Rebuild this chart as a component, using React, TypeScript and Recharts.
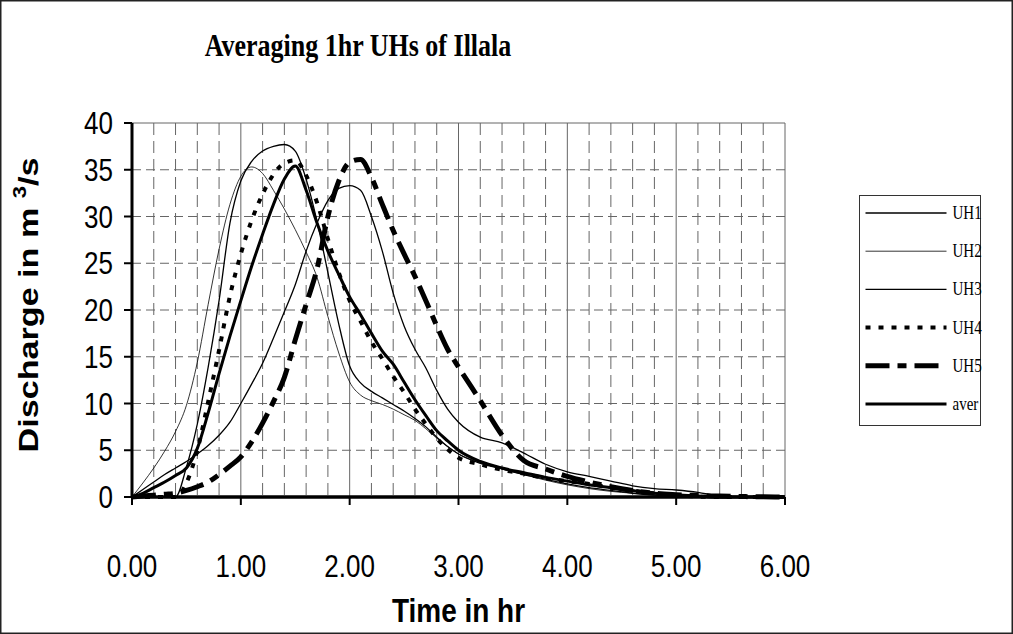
import React from 'react';
import { LineChart, Line, XAxis, YAxis, CartesianGrid } from 'recharts';

// ---------- data ----------
const time = [
  0, 0.1, 0.2, 0.3, 0.4, 0.5, 0.6, 0.7, 0.8, 0.9,
  1.0, 1.1, 1.2, 1.3, 1.4, 1.5, 1.6, 1.7, 1.8, 1.9,
  2.0, 2.1, 2.2, 2.3, 2.4, 2.5, 2.6, 2.7, 2.8, 2.9,
  3.0, 3.2, 3.4, 3.6, 3.8, 4.0, 4.2, 4.4, 4.6, 4.8,
  5.0, 5.2, 5.4, 5.6, 5.8, 6.0,
];

const uh1 = [
  0, 0, 0, 0, 0, 3.2, 7.8, 13.9, 21.0, 29.3,
  33.8, 35.9, 37.0, 37.5, 37.7, 37.0, 34.0, 29.5, 24.0, 18.5,
  14.0, 12.2, 11.3, 10.6, 9.9, 9.2, 8.4, 7.5, 6.4, 5.4,
  4.6, 3.6, 3.0, 2.4, 1.9, 1.4, 1.0, 0.7, 0.4, 0.2,
  0.1, 0, 0, 0, 0, 0,
];

const uh2 = [
  0, 1.5, 3.1, 4.9, 7.0, 9.8, 14.4, 20.6, 26.5, 31.3,
  34.3, 35.3, 34.6, 32.8, 30.8, 28.6, 26.2, 23.5, 19.3, 15.4,
  12.3, 10.9, 10.3, 9.9, 9.4, 8.8, 8.2, 7.3, 6.3, 5.4,
  4.6, 3.7, 3.0, 2.4, 1.8, 1.3, 0.9, 0.6, 0.4, 0.2,
  0.1, 0, 0, 0, 0, 0,
];

const uh3 = [
  0, 0.8, 1.6, 2.4, 3.1, 3.8, 4.6, 5.5, 6.6, 8.0,
  10.0, 12.1, 14.3, 17.0, 19.8, 22.7, 26.3, 29.3, 31.7, 33.0,
  33.3, 32.8, 30.0, 26.3, 21.8, 18.3, 15.8, 13.8, 11.4, 9.4,
  8.0, 6.4, 5.8, 4.7, 3.5, 2.7, 2.2, 1.7, 1.2, 0.9,
  0.75, 0.5, 0.1, 0, 0, 0,
];

const uh4 = [
  0, 0, 0, 0, 0, 1.5, 5.0, 10.2, 15.7, 21.5,
  26.0, 29.6, 32.4, 34.5, 35.7, 36.0, 34.4, 31.5, 27.6, 24.0,
  21.0, 18.8, 16.6, 14.8, 12.9, 11.2, 9.4, 7.8, 6.3, 5.1,
  4.2, 3.5, 2.9, 2.5, 2.0, 1.7, 1.4, 1.0, 0.7, 0.4,
  0.2, 0.05, 0, 0, 0, 0,
];

const uh5 = [
  0, 0.1, 0.2, 0.3, 0.4, 0.7, 1.1, 1.6, 2.4, 3.3,
  4.3, 5.9, 7.9, 10.2, 12.8, 16.8, 20.6, 24.4, 30.0, 33.8,
  35.8, 36.1, 34.2, 31.3, 28.5, 26.0, 23.6, 21.0, 18.3, 15.8,
  13.9, 10.3, 6.6, 3.9, 3.0, 2.2, 1.6, 1.1, 0.7, 0.4,
  0.25, 0.15, 0.1, 0.05, 0.02, 0,
];

const aver = [
  0, 0.4, 1.0, 1.6, 2.3, 3.1, 5.2, 9.0, 13.2, 17.2,
  21.0, 24.7, 28.1, 31.3, 34.0, 35.4, 32.8, 29.3, 26.3, 23.8,
  21.4, 19.5, 17.5, 15.6, 14.2, 12.3, 10.4, 8.7, 7.1, 6.0,
  5.0, 3.8, 3.1, 2.6, 2.1, 1.7, 1.3, 1.0, 0.7, 0.4,
  0.25, 0.1, 0, 0, 0, 0,
];

const xTicks = [0, 1, 2, 3, 4, 5, 6];
const yTicks = [0, 5, 10, 15, 20, 25, 30, 35, 40];
const minorGridX = [
  0.2, 0.4, 0.6, 0.8, 1.2, 1.4, 1.6, 1.8, 2.2, 2.4, 2.6, 2.8,
  3.2, 3.4, 3.6, 3.8, 4.2, 4.4, 4.6, 4.8, 5.2, 5.4, 5.6, 5.8,
];
const majorGridX = [1, 2, 3, 4, 5, 6];
const dashedGridY = [5, 10, 15, 20, 25, 30, 35];
const solidGridY = [40];

const titleText = 'Averaging 1hr UHs of Illala';
const xTitle = 'Time in hr';

const data = time.map((t, i) => ({
  t,
  UH1: uh1[i],
  UH2: uh2[i],
  UH3: uh3[i],
  UH4: uh4[i],
  UH5: uh5[i],
  aver: aver[i],
}));

type S = { key: string; width: number; dash?: string };
const series: S[] = [
  { key: 'UH1', width: 1.3 },
  { key: 'UH2', width: 0.8 },
  { key: 'UH3', width: 1.3 },
  { key: 'UH4', width: 4, dash: '5 8' },
  { key: 'UH5', width: 5, dash: '24 8 9 8' },
  { key: 'aver', width: 3 },
];

const SANS = '"Liberation Sans", Arial, sans-serif';
const SERIF = '"Liberation Serif", "Times New Roman", serif';
const K = 1.2; // vertical stretch of the glyphs seen in the reference
const TICK_FS = 26;

// text whose baseline sits at (x, y), stretched vertically by k
const SText = (p: any) => (
  <text
    transform={`translate(${p.x},${p.y}) scale(1,${p.k})`}
    x={0}
    y={0}
    textAnchor={p.anchor || 'middle'}
    fontFamily={p.family}
    fontWeight={p.weight || 'normal'}
    fontSize={p.fs}
    fill="#000"
  >
    {p.children}
  </text>
);

const XTick = (props: any) => {
  const { x, y, payload } = props;
  return (
    <SText x={x} y={y + 0.716 * TICK_FS * K} k={K} fs={TICK_FS} family={SANS}>
      {Number(payload.value).toFixed(2)}
    </SText>
  );
};

const YTick = (props: any) => {
  const { x, y, payload } = props;
  return (
    <SText x={x} y={y + 0.358 * TICK_FS * K} k={K} fs={TICK_FS} anchor="end" family={SANS}>
      {String(payload.value)}
    </SText>
  );
};

const YLabel = (props: any) => {
  const vb = props.viewBox || { x: 0, y: 123, width: 132, height: 373 };
  const cx = 38;
  const cy = vb.y + vb.height / 2 - 5;
  return (
    <text
      transform={`translate(${cx},${cy}) rotate(-90) scale(1.22,1)`}
      x={0}
      y={0}
      textAnchor="middle"
      fontFamily={SANS}
      fontWeight="bold"
      fontSize={28}
      fill="#000"
    >
      Discharge in m <tspan dy={-12} fontSize={18}>3</tspan>
      <tspan dy={12}>/s</tspan>
    </text>
  );
};

const XLabel = (props: any) => {
  const vb = props.viewBox || { x: 132, y: 496, width: 653, height: 40 };
  return (
    <SText
      x={vb.x + vb.width / 2}
      y={vb.y + 125}
      k={K}
      fs={28}
      weight="bold"
      family={SANS}
    >
      {xTitle}
    </SText>
  );
};

const Overlay = () => {
  const lx = 859.5;
  const ly = 195.5;
  const rowY = (i: number) => 213 + i * 38.2;
  return (
    <svg
      width={1013}
      height={634}
      style={{ position: 'absolute', left: 0, top: 0, pointerEvents: 'none' }}
    >
      <rect x={0.75} y={0.75} width={1011.5} height={632.5} fill="none" stroke="#222" strokeWidth={1.5} />
      <SText x={358} y={56} k={K} fs={26} weight="bold" family={SERIF}>
        {titleText}
      </SText>
      <rect x={lx} y={ly} width={121} height={230} fill="#fff" stroke="#333" strokeWidth={1} />
      {series.map((s, i) => (
        <g key={s.key}>
          <line
            x1={lx + 6}
            x2={lx + 87}
            y1={rowY(i)}
            y2={rowY(i)}
            stroke="#000"
            strokeWidth={s.width}
            strokeDasharray={s.dash}
          />
          <SText x={lx + 93} y={rowY(i) + 6} k={1.25} fs={15} anchor="start" family={SERIF}>
            {s.key}
          </SText>
        </g>
      ))}
    </svg>
  );
};

export default function App() {
  return (
    <div style={{ position: 'absolute', left: 0, top: 0, width: 1013, height: 634, background: '#fff' }}>
      <LineChart
        width={1013}
        height={634}
        data={data}
        margin={{ top: 123, right: 228, bottom: 97, left: 0 }}
      >
        <CartesianGrid
          stroke="#666"
          strokeWidth={1}
          strokeDasharray="9 5"
          vertical={false}
          horizontalValues={dashedGridY}
          syncWithTicks={false}
          fill="none"
        />
        <CartesianGrid
          stroke="#666"
          strokeWidth={1}
          strokeDasharray="12 6"
          horizontal={false}
          verticalValues={minorGridX}
          syncWithTicks={false}
          fill="none"
        />
        <CartesianGrid
          stroke="#666"
          strokeWidth={1}
          verticalValues={majorGridX}
          horizontalValues={solidGridY}
          syncWithTicks={false}
          fill="none"
        />
        <XAxis
          dataKey="t"
          type="number"
          domain={[0, 6]}
          ticks={xTicks}
          interval={0}
          height={40}
          tickSize={8}
          tickMargin={50}
          axisLine={{ stroke: '#000', strokeWidth: 3.5 }}
          tickLine={{ stroke: '#000', strokeWidth: 2 }}
          tick={XTick}
          label={{ content: XLabel }}
        />
        <YAxis
          type="number"
          domain={[0, 40]}
          ticks={yTicks}
          interval={0}
          width={132}
          tickSize={8}
          tickMargin={11}
          axisLine={{ stroke: '#000', strokeWidth: 3 }}
          tickLine={{ stroke: '#000', strokeWidth: 2 }}
          tick={YTick}
          label={{ content: YLabel }}
        />
        {series.map((s) => (
          <Line
            key={s.key}
            dataKey={s.key}
            type="monotone"
            stroke="#000"
            strokeWidth={s.width}
            strokeDasharray={s.dash}
            dot={false}
            activeDot={false}
            isAnimationActive={false}
          />
        ))}
      </LineChart>
      <Overlay />
    </div>
  );
}
